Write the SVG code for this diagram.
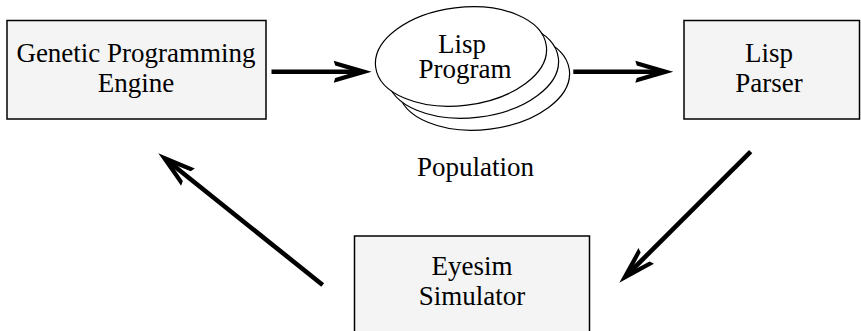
<svg xmlns="http://www.w3.org/2000/svg" width="861" height="331" viewBox="0 0 861 331">
<style>
.box{fill:#f4f4f4;stroke:#000;stroke-width:1.5}
.ell{fill:#fff;stroke:#000;stroke-width:1.2}
.t{font-family:'Liberation Serif','Times New Roman',serif;font-size:27px;fill:#000;text-anchor:middle}
.shaft{stroke:#000;stroke-width:4.6;fill:none}
.head{fill:#000}
</style>
<defs>
<path id="ah" class="head" d="M0,0 L-38,-11 L-36.5,-6.3 L-16,0 L-36.5,6.3 L-38,11 Z"/>
</defs>
<g id="gpe" font-family="Liberation Serif, serif">
<rect class="box" x="7" y="20.5" width="259" height="98.5"/>
<text class="t" x="136" y="61.5">Genetic Programming</text>
<text class="t" x="136" y="91.5">Engine</text>
</g>
<g id="population" font-family="Liberation Serif, serif">
<ellipse class="ell" cx="484" cy="80.5" rx="86" ry="49" transform="rotate(-7 484 80.5)"/>
<ellipse class="ell" cx="473" cy="68.5" rx="86" ry="49" transform="rotate(-7 473 68.5)"/>
<ellipse class="ell" cx="461" cy="56.5" rx="86" ry="49" transform="rotate(-7 461 56.5)"/>
<text class="t" x="462" y="53">Lisp</text>
<text class="t" x="465" y="78">Program</text>
<text class="t" x="475.5" y="175.5">Population</text>
</g>
<g id="parser" font-family="Liberation Serif, serif">
<rect class="box" x="684" y="20.5" width="175.5" height="98.5"/>
<text class="t" x="769" y="61.5">Lisp</text>
<text class="t" x="769" y="91.5">Parser</text>
</g>
<g id="eyesim" font-family="Liberation Serif, serif">
<rect class="box" x="354.5" y="236" width="235" height="100"/>
<text class="t" x="472" y="275">Eyesim</text>
<text class="t" x="472" y="305">Simulator</text>
</g>
<g id="connectors">
<line class="shaft" x1="271.5" y1="71.7" x2="362" y2="71.7"/>
<use href="#ah" transform="translate(371.7 71.7)"/>
<line class="shaft" x1="573.3" y1="71.7" x2="664" y2="71.7"/>
<use href="#ah" transform="translate(673.3 71.7)"/>
<line class="shaft" x1="322.7" y1="285" x2="166" y2="159.5"/>
<use href="#ah" transform="translate(158.3 153.3) rotate(-141.3)"/>
<line class="shaft" x1="750.7" y1="151.7" x2="626.5" y2="275.5"/>
<use href="#ah" transform="translate(619.3 282.7) rotate(135.1)"/>
</g>
</svg>
